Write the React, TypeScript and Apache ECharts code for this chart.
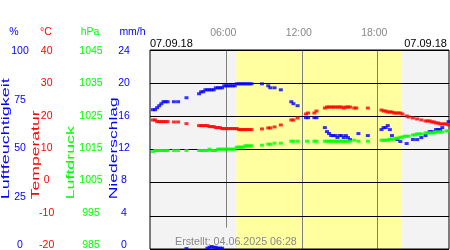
import React, { useEffect, useRef } from 'react';
import * as echarts from 'echarts';

const dateLabel = '07.09.18';
const createdLabel = 'Erstellt: 04.06.2025 06:28';
const hourMarks = ['06:00', '12:00', '18:00'];
const daylight = ['06:48', '19:59'];

const humidityRange = [0, 100, 25];
const temperatureRange = [-20, 40, 10];
const pressureRange = [985, 1045, 10];
const precipRange = [0, 24, 4];

const humidity: [string, number][] = [
  ['00:10', 70], ['00:20', 70], ['00:30', 71], ['00:40', 72], ['00:50', 73], ['01:00', 74], ['01:10', 74], ['01:20', 74],
  ['01:50', 74], ['02:10', 74], ['02:50', 76], ['03:50', 78], ['04:00', 79], ['04:10', 79], ['04:20', 80], ['04:30', 80],
  ['04:40', 80], ['04:50', 80], ['05:00', 80], ['05:10', 81], ['05:20', 81], ['05:30', 81], ['05:40', 81], ['05:50', 82],
  ['06:00', 82], ['06:10', 82], ['06:20', 82], ['06:30', 82], ['06:40', 82], ['06:50', 83], ['07:00', 83], ['07:10', 83],
  ['07:20', 83], ['07:30', 83], ['07:40', 83], ['07:50', 83], ['08:00', 83], ['08:50', 83], ['09:20', 82], ['09:30', 81],
  ['09:50', 81], ['10:20', 80], ['11:10', 74], ['11:20', 73], ['11:40', 72], ['12:20', 66], ['12:30', 66], ['13:00', 66],
  ['13:10', 66], ['13:50', 61], ['14:00', 59], ['14:10', 58], ['14:20', 57], ['14:30', 57], ['14:40', 57], ['14:50', 56],
  ['15:00', 57], ['15:10', 57], ['15:20', 56], ['15:30', 57], ['15:40', 56], ['15:50', 55], ['16:30', 58], ['17:15', 57],
  ['18:20', 60], ['18:30', 61], ['18:40', 61], ['18:50', 62], ['19:00', 60], ['19:10', 57], ['19:35', 55], ['19:50', 54],
  ['20:20', 53], ['20:50', 55], ['21:10', 55], ['21:30', 56], ['21:50', 57], ['22:10', 59], ['22:20', 59], ['22:40', 60],
  ['22:50', 60], ['23:00', 60], ['23:10', 61], ['23:40', 64],
];

const temperature: [string, number][] = [
  ['00:10', 18.9], ['00:20', 18.9], ['00:30', 18.4], ['00:40', 18.4], ['00:50', 18.4], ['01:00', 18.4], ['01:10', 18.4],
  ['01:20', 18.4], ['01:50', 18.3], ['02:10', 18.3], ['02:50', 17.8], ['03:50', 17.2], ['04:00', 17.2], ['04:10', 17.2],
  ['04:20', 17.2], ['04:30', 17.2], ['04:40', 16.9], ['04:50', 16.9], ['05:00', 16.9], ['05:10', 16.6], ['05:20', 16.6],
  ['05:30', 16.6], ['05:40', 16.3], ['05:50', 16.3], ['06:00', 16.3], ['06:10', 16.3], ['06:20', 16.3], ['06:30', 16.3],
  ['06:40', 16.3], ['06:50', 16.3], ['07:00', 16.0], ['07:10', 16.0], ['07:20', 16.0], ['07:30', 16.0], ['07:40', 16.0],
  ['07:50', 16.0], ['08:00', 16.0], ['08:50', 16.2], ['09:20', 16.5], ['09:30', 16.5], ['09:50', 16.8], ['10:20', 17.4],
  ['11:10', 18.9], ['11:20', 18.9], ['11:40', 19.5], ['12:20', 20.7], ['12:30', 21.0], ['13:00', 21.0], ['13:10', 21.6],
  ['13:50', 22.5], ['14:00', 22.8], ['14:10', 22.8], ['14:20', 22.8], ['14:30', 22.8], ['14:40', 22.8], ['14:50', 22.8],
  ['15:00', 22.8], ['15:10', 22.8], ['15:20', 22.5], ['15:30', 22.8], ['15:40', 22.8], ['15:50', 22.8], ['16:10', 22.5],
  ['16:20', 22.5], ['17:15', 22.5], ['18:20', 21.9], ['18:30', 21.6], ['18:40', 21.6], ['18:50', 21.3], ['19:00', 21.3],
  ['19:10', 21.3], ['19:20', 21.0], ['19:30', 21.0], ['19:40', 21.0], ['19:50', 21.0], ['20:00', 20.7], ['20:20', 20.1],
  ['20:30', 19.8], ['20:50', 19.5], ['21:10', 19.2], ['21:30', 18.9], ['21:50', 18.6], ['22:00', 18.6], ['22:10', 18.6],
  ['22:20', 18.3], ['22:30', 18.3], ['22:40', 18.0], ['22:50', 18.0], ['23:00', 17.7], ['23:10', 17.7], ['23:20', 17.7],
  ['23:30', 17.7], ['23:40', 17.4],
];

const pressure: [string, number][] = [
  ['00:10', 1014.4], ['00:20', 1014.7], ['00:30', 1014.7], ['00:40', 1014.7], ['00:50', 1014.7], ['01:00', 1014.7],
  ['01:10', 1014.7], ['01:20', 1014.7], ['01:50', 1014.7], ['02:10', 1014.7], ['02:50', 1014.7], ['03:50', 1014.7],
  ['04:00', 1014.7], ['04:10', 1014.7], ['04:20', 1014.7], ['04:30', 1014.7], ['04:40', 1015.1], ['04:50', 1014.7],
  ['05:00', 1014.7], ['05:10', 1014.7], ['05:20', 1015.1], ['05:30', 1015.1], ['05:40', 1015.1], ['05:50', 1015.1],
  ['06:00', 1015.1], ['06:10', 1015.1], ['06:20', 1015.1], ['06:30', 1015.1], ['06:40', 1015.1], ['06:50', 1015.7],
  ['07:00', 1015.7], ['07:10', 1015.7], ['07:20', 1015.7], ['07:30', 1016.1], ['07:40', 1016.1], ['07:50', 1016.1],
  ['08:00', 1016.1], ['08:50', 1016.3], ['09:20', 1016.6], ['09:30', 1016.6], ['09:50', 1016.9], ['10:20', 1016.9],
  ['11:10', 1017.5], ['11:20', 1017.5], ['11:40', 1017.5], ['12:25', 1017.5], ['13:00', 1017.5], ['13:10', 1017.5],
  ['13:50', 1017.5], ['14:00', 1017.5], ['14:10', 1017.5], ['14:20', 1017.5], ['14:30', 1017.5], ['14:40', 1017.5],
  ['14:50', 1017.5], ['15:00', 1017.5], ['15:10', 1017.5], ['15:20', 1017.5], ['15:30', 1017.5], ['15:40', 1017.5],
  ['15:50', 1017.5], ['16:10', 1017.8], ['16:30', 1017.5], ['17:15', 1017.5], ['18:20', 1017.8], ['18:30', 1017.8],
  ['18:40', 1017.8], ['18:50', 1017.8], ['19:00', 1018.1], ['19:10', 1018.1], ['19:20', 1018.1], ['19:30', 1018.4],
  ['19:40', 1018.4], ['19:50', 1018.7], ['20:00', 1018.7], ['20:10', 1019.0], ['20:20', 1019.0], ['20:30', 1019.0],
  ['20:50', 1019.4], ['21:00', 1019.4], ['21:10', 1019.7], ['21:20', 1019.7], ['21:30', 1019.7], ['21:50', 1020.0],
  ['22:00', 1020.0], ['22:10', 1020.0], ['22:20', 1020.0], ['22:30', 1020.0], ['22:40', 1020.3], ['22:50', 1020.3],
  ['23:00', 1020.3], ['23:10', 1020.3], ['23:30', 1020.6], ['23:40', 1020.6],
];

const precipitation: [string, number][] = [
  ['02:50', 0.05], ['04:30', 0.1], ['04:40', 0.2], ['04:50', 0.3], ['05:00', 0.2], ['05:10', 0.2],
  ['05:20', 0.1], ['05:30', 0.1], ['05:40', 0.1],
];

const FONT = "'Liberation Sans', Arial, Helvetica, sans-serif";
const BLUE = '#0000ff';
const RED = '#ff0000';
const GREEN = '#00ff00';
const GRAYTEXT = '#888888';
const BG = '#f3f3f3';
const YELLOW = '#ffffa0';

const toMin = (t: string) => {
  const [h, m] = t.split(':').map(Number);
  return h * 60 + m;
};
const pts = (arr: [string, number][]) => arr.map(([t, v]) => [toMin(t), v]);

export default function App() {
  const ref = useRef<HTMLDivElement>(null);

  useEffect(() => {
    if (!ref.current) return;
    const chart = echarts.init(ref.current, null, { renderer: 'svg' });
    const xMin = -4;
    const xMax = 1422;

    const labelAxis = (range: number[], offset: number, color: string) => ({
      type: 'value',
      gridIndex: 1,
      position: 'left',
      offset,
      min: 0,
      max: range[1] - range[0],
      interval: range[2],
      axisLine: { show: false },
      axisTick: { show: false },
      splitLine: { show: false },
      axisLabel: {
        color,
        fontSize: 10.5,
        fontFamily: FONT,
        align: 'center',
        margin: 0,
        showMinLabel: true,
        showMaxLabel: true,
        formatter: (v: number) => String(v + range[0]),
      },
    });

    const dataAxis = (range: number[], extra: any = {}) => ({
      type: 'value',
      gridIndex: 0,
      min: range[0],
      max: range[1],
      show: false,
      ...extra,
    });

    const text = (x: number, y: number, s: string, color: string, align = 'center', size = 10.5) => ({
      type: 'text',
      x,
      y,
      z: 10,
      silent: true,
      style: {
        text: s,
        fill: color,
        font: `${size}px ${FONT}`,
        textAlign: align,
        align,
        textVerticalAlign: 'middle',
        verticalAlign: 'middle',
      },
    });

    const vname = (x: number, s: string, color: string, sx: number) => ({
      type: 'text',
      x,
      y: 199.3,
      rotation: Math.PI / 2,
      scaleX: sx,
      scaleY: 1,
      z: 10,
      silent: true,
      style: {
        text: s,
        fill: color,
        font: `10px ${FONT}`,
        textAlign: 'left',
        align: 'left',
        textVerticalAlign: 'middle',
        verticalAlign: 'middle',
      },
    });

    const scatter = (name: string, data: [string, number][], yAxisIndex: number, color: string, extra: any = {}) => ({
      name,
      type: 'scatter',
      xAxisIndex: 0,
      yAxisIndex,
      z: 3,
      symbol: 'rect',
      symbolSize: [4, 3],
      itemStyle: { color },
      silent: true,
      data: pts(data),
      ...extra,
    });

    const option: any = {
      animation: false,
      grid: [
        { left: 150, top: 50, width: 299, height: 199, show: true, backgroundColor: 'transparent', borderColor: '#000', borderWidth: 1, z: 2 },
        { left: 150, top: 50, width: 299, height: 194, show: false },
      ],
      xAxis: [
        { type: 'value', gridIndex: 0, min: xMin, max: xMax, show: false },
        { type: 'value', gridIndex: 1, min: xMin, max: xMax, show: false },
      ],
      yAxis: [
        dataAxis(humidityRange),
        dataAxis(temperatureRange, {
          show: true,
          interval: temperatureRange[2],
          z: 1.8,
          axisLine: { show: false },
          axisTick: { show: false },
          axisLabel: { show: false },
          splitLine: { show: true, lineStyle: { color: '#000', width: 1 } },
        }),
        dataAxis(pressureRange),
        dataAxis(precipRange),
        labelAxis(humidityRange, 130, BLUE),
        labelAxis(temperatureRange, 103.3, RED),
        labelAxis(pressureRange, 59, GREEN),
        labelAxis(precipRange, 26, BLUE),
      ],
      series: [
        scatter('Luftfeuchtigkeit', humidity, 0, BLUE, {
          markArea: {
            silent: true,
            z: 1,
            data: [
              [{ xAxis: xMin, itemStyle: { color: BG } }, { xAxis: toMin(daylight[0]) }],
              [{ xAxis: toMin(daylight[0]), itemStyle: { color: YELLOW } }, { xAxis: toMin(daylight[1]) }],
              [{ xAxis: toMin(daylight[1]), itemStyle: { color: BG } }, { xAxis: xMax }],
            ],
          },
          markLine: {
            silent: true,
            z: 1.5,
            symbol: ['none', 'none'],
            lineStyle: { color: '#808080', width: 1, type: 'solid' },
            label: {
              show: true,
              position: 'end',
              distance: 13,
              offset: [-3, 0],
              color: GRAYTEXT,
              fontSize: 10.5,
              fontFamily: FONT,
              formatter: (p: any) => p.name,
            },
            data: hourMarks.map((t, i) => [
              { name: t, coord: [toMin(t), i === 0 ? 10.7 : 0] },
              { coord: [toMin(t), 100] },
            ]),
          },
        }),
        scatter('Temperatur', temperature, 1, RED),
        scatter('Luftdruck', pressure, 2, GREEN),
        scatter('Niederschlag', precipitation, 3, BLUE),
      ],
      graphic: [
        text(14, 30.7, '%', BLUE),
        text(46, 30.7, '°C', RED),
        text(90, 30.7, 'hPa', GREEN),
        text(132.5, 30.7, 'mm/h', BLUE),
        text(150, 43, dateLabel, '#000', 'left', 11),
        text(447, 43, dateLabel, '#000', 'right', 11),
        text(175, 240.7, createdLabel, GRAYTEXT, 'left', 10.7),
        vname(5.5, 'Luftfeuchtigkeit', BLUE, 1.8),
        vname(35.5, 'Temperatur', RED, 1.76),
        vname(71, 'Luftdruck', GREEN, 1.78),
        vname(113, 'Niederschlag', BLUE, 1.75),
      ],
    };

    chart.setOption(option);
    return () => chart.dispose();
  }, []);

  return <div ref={ref} style={{ position: 'fixed', left: 0, top: 0, width: 450, height: 250 }} />;
}
